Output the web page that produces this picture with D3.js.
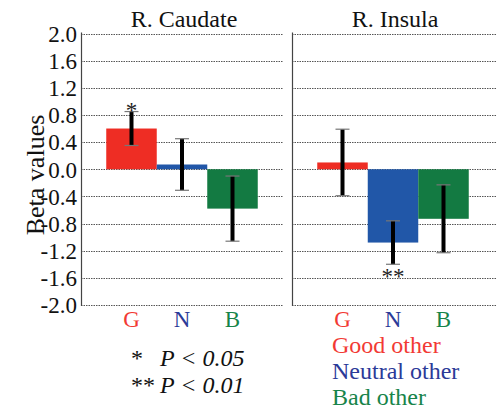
<!DOCTYPE html>
<html><head><meta charset="utf-8">
<script src="https://cdn.jsdelivr.net/npm/d3@7"></script>
<style>body{margin:0;background:#fff}svg{display:block}svg text{font-family:'Liberation Serif','Times New Roman',Times,serif !important}</style>
</head><body>
<script>
const categories = ["G","N","B"];
const legendLabels = ["Good other","Neutral other","Bad other"];
const regions = ["R. Caudate","R. Insula"];
const caudateValues = [0.60, 0.07, -0.58];
const caudateErrors = [0.25, 0.38, 0.48];
const insulaValues = [0.10, -1.08, -0.73];
const insulaErrors = [0.49, 0.32, 0.50];
const significance = [["*","",""],["","**",""]];
const yTicks = [2.0,1.6,1.2,0.8,0.4,0.0,-0.4,-0.8,-1.2,-1.6,-2.0];
const notes = [["*","P < 0.05"],["**","P < 0.01"]];

const barColors = ["#ee2d24","#2157a8","#137a42"];
const labelColors = ["#f23a34","#2b3a98","#17844a"];
const W=496,H=412;
const font = "Liberation Serif";
const svg = d3.select("body").append("svg").attr("width",W).attr("height",H)
  .attr("font-family",font);

const y = d3.scaleLinear().domain([-2,2]).range([305,33.5]);
const panels = [
  {name:regions[0], vals:caudateValues, errs:caudateErrors, x0:81, x1:283, gx1:283, sig:significance[0], tx:184},
  {name:regions[1], vals:insulaValues, errs:insulaErrors, x0:292, x1:494, gx1:496, sig:significance[1], tx:395}
];

panels.forEach((p,pi)=>{
  const x = d3.scaleBand().domain(categories).range([p.x0,p.x1]).paddingInner(0).paddingOuter(0.5);
  const g = svg.append("g");
  g.selectAll("line.grid").data(yTicks).join("line")
    .attr("x1",p.x0).attr("x2",p.gx1)
    .attr("y1",d=>Math.round(y(d))+0.5).attr("y2",d=>Math.round(y(d))+0.5)
    .attr("stroke","#555").attr("stroke-width",1).attr("stroke-dasharray","1.5,1");
  g.selectAll("rect").data(p.vals).join("rect")
    .attr("x",(d,i)=>x(categories[i])).attr("width",x.bandwidth())
    .attr("y",d=>y(Math.max(0,d))).attr("height",d=>Math.abs(y(d)-y(0)))
    .attr("fill",(d,i)=>barColors[i]);
  p.vals.forEach((v,i)=>{
    const cx = x(categories[i])+x.bandwidth()/2;
    const e = p.errs[i];
    g.append("line").attr("x1",cx).attr("x2",cx).attr("y1",y(v+e)).attr("y2",y(v-e))
      .attr("stroke","#000").attr("stroke-width",4);
    [v+e,v-e].forEach(t=>{
      g.append("line").attr("x1",cx-7).attr("x2",cx+7).attr("y1",y(t)).attr("y2",y(t))
        .attr("stroke","#777").attr("stroke-width",1.2);
    });
    if(p.sig[i]){
      const above = v>0;
      g.append("text").attr("x",cx).attr("y",above? y(v+e)+6 : y(v-e)+20)
        .attr("text-anchor","middle").attr("font-size",23).attr("fill","#222")
        .text(p.sig[i]);
    }
    g.append("text").attr("x",cx).attr("y",327).attr("text-anchor","middle")
      .attr("font-size",23).attr("fill",labelColors[i]).text(categories[i]);
  });
  g.append("line").attr("x1",p.x0+0.5).attr("x2",p.x0+0.5).attr("y1",y(2)-1).attr("y2",y(-2)+1)
    .attr("stroke","#444").attr("stroke-width",1.2);
  g.append("text").attr("x",p.tx).attr("y",26.5).attr("text-anchor","middle")
    .attr("font-size",24).attr("fill","#111").text(p.name);
  if(pi===0){
    const ax = d3.axisLeft(y).tickValues(yTicks).tickSize(0).tickPadding(4).tickFormat(d=>d.toFixed(1));
    const a = svg.append("g").attr("transform",`translate(${p.x0},0)`).call(ax);
    a.attr("font-family",font).attr("font-size",23);
    a.select(".domain").remove();
    a.selectAll("text").attr("font-size",23).attr("font-family",font).attr("fill","#111").attr("dy","0.34em");
  }
});

svg.append("text").attr("transform","translate(44,175) rotate(-90)").attr("text-anchor","middle")
  .attr("font-size",26).attr("fill","#111").text("Beta values");

notes.forEach((n,i)=>{
  const t = svg.append("text").attr("x",131).attr("y",366+i*27).attr("font-size",24).attr("fill","#111");
  t.append("tspan").text(n[0]);
  t.append("tspan").attr("x",160).attr("font-style","italic").text(n[1]);
});
legendLabels.forEach((l,i)=>{
  svg.append("text").attr("x",332).attr("y",353.3+i*26).attr("font-size",24)
    .attr("fill",labelColors[i]).text(l);
});
</script>
</body></html>
